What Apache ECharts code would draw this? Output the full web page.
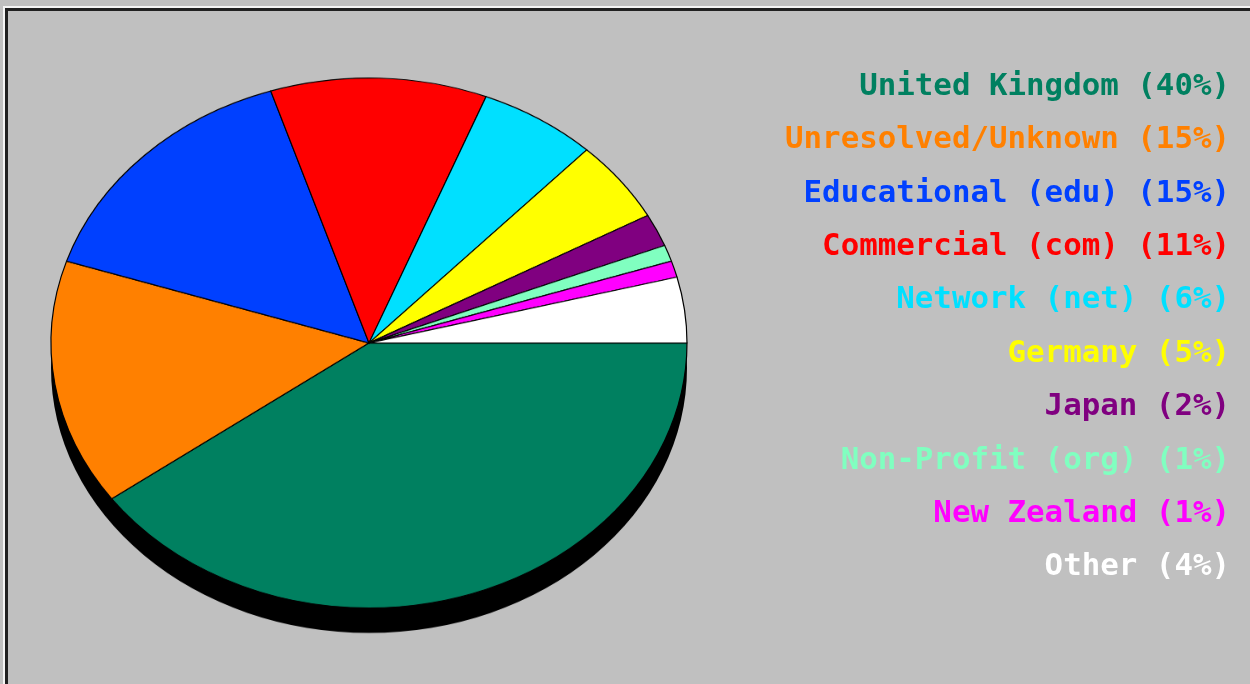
<!DOCTYPE html>
<html>
<head>
<meta charset="utf-8">
<script src="https://cdn.jsdelivr.net/npm/echarts@6/dist/echarts.min.js"></script>
<style>
  html, body { margin: 0; padding: 0; background: #c0c0c0; }
  #frame {
    position: absolute; left: 0; top: 0; width: 1250px; height: 684px;
    background: #c0c0c0; overflow: hidden;
  }
  #edgeLight {
    position: absolute; left: 3px; top: 6px; right: -10px; bottom: -10px;
    border-left: 2px solid #f4f4f4; border-top: 2px solid #f4f4f4;
  }
  #edgeDark {
    position: absolute; left: 5px; top: 8px; right: -10px; bottom: -10px;
    border-left: 3px solid #202020; border-top: 3px solid #202020;
  }
  #pie {
    position: absolute; left: 0; top: 0; width: 1250px; height: 821px;
    transform-origin: 0 0; transform: scaleY(0.8333);
  }
  #legend { position: absolute; left: 0; top: 0; width: 1250px; height: 684px; }
</style>
</head>
<body>
<div id="frame">
  <div id="edgeLight"></div>
  <div id="edgeDark"></div>
  <div id="pie"></div>
  <div id="legend"></div>
</div>
<script>
const categories = [
  'United Kingdom', 'Unresolved/Unknown', 'Educational (edu)', 'Commercial (com)',
  'Network (net)', 'Germany', 'Japan', 'Non-Profit (org)', 'New Zealand', 'Other'
]
const shares = [40, 15, 15, 11, 6, 5, 2, 1, 1, 4]
const colors = [
  '#008060', '#ff8000', '#0040ff', '#ff0000', '#00e0ff',
  '#ffff00', '#800080', '#80ffc0', '#ff00ff', '#ffffff'
]

// pie is drawn round, then squashed by the css scaleY to get the ellipse
const pieChart = echarts.init(document.getElementById('pie'), null, { renderer: 'canvas' })
pieChart.setOption({
  animation: false,
  series: [
    {
      name: 'shadow',
      type: 'pie',
      silent: true,
      center: [369, 441.6],
      radius: 318,
      label: { show: false },
      labelLine: { show: false },
      itemStyle: { color: '#000000' },
      emphasis: { disabled: true },
      z: 1,
      data: [1],
    },
    {
      name: 'Domains',
      type: 'pie',
      silent: true,
      center: [369, 411.6],
      radius: 318,
      startAngle: 0,
      clockwise: true,
      label: { show: false },
      labelLine: { show: false },
      emphasis: { disabled: true },
      itemStyle: { borderColor: '#000000', borderWidth: 1.2 },
      z: 2,
      data: categories.map((name, i) => ({
        name,
        value: shares[i],
        itemStyle: { color: colors[i] },
      })),
    },
  ],
})

// legend: right aligned coloured lines with a hard black drop shadow
const rich = {}
colors.forEach((c, i) => {
  rich['c' + i] = {
    color: c,
    align: 'right',
    fontFamily: 'DejaVu Sans Mono',
    fontWeight: 'bold',
    fontSize: 30.8,
    lineHeight: 53.4,
    textShadowColor: '#000000',
    textShadowOffsetX: 2,
    textShadowOffsetY: 2,
    textShadowBlur: 0,
  }
})
const legendText = categories
  .map((name, i) => `{c${i}|${name} (${shares[i]}%)}`)
  .join('\n')

const legendChart = echarts.init(document.getElementById('legend'))
legendChart.setOption({
  animation: false,
  title: {
    text: legendText,
    left: 1230,
    top: 60,
    padding: 0,
    textAlign: 'right',
    textStyle: { rich },
  },
})
</script>
</body>
</html>
